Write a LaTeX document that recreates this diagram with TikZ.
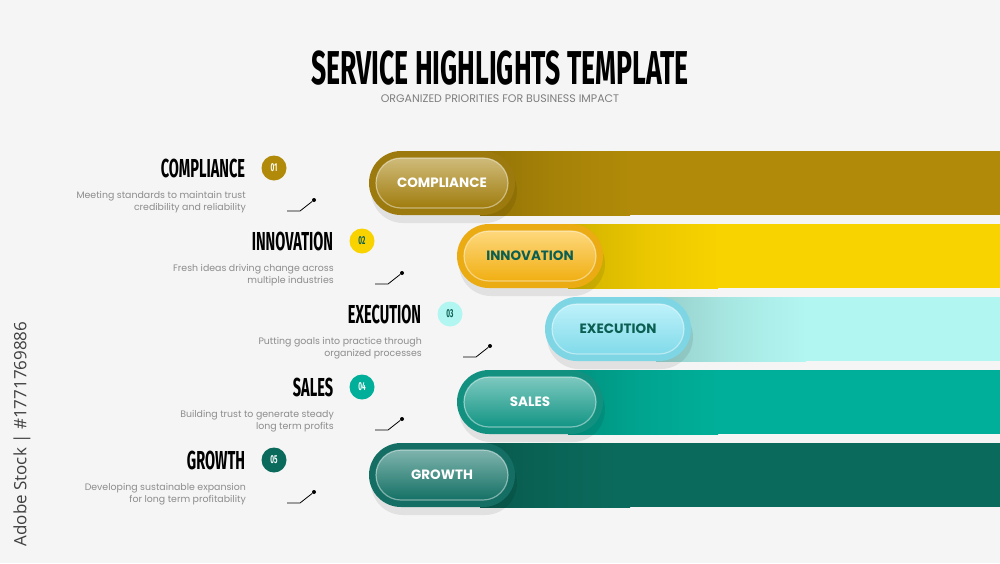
\documentclass[tikz,border=0pt]{standalone}
\usepackage{fontspec}
\setmainfont{Poppins}
\newfontfamily\headfont[FakeStretch=0.56]{Fira Sans}
\newfontfamily\markfont{Open Sans}
\usetikzlibrary{positioning}

\definecolor{bgcol}{HTML}{F5F5F5}
\definecolor{desccol}{HTML}{8C8C8C}
\definecolor{darkteal}{HTML}{0B5E52}
\definecolor{goldbar}{HTML}{B08A08}
\definecolor{goldpill}{HTML}{A8830E}
\definecolor{yellowbar}{HTML}{F8D300}
\definecolor{yellowpill}{HTML}{FDB813}
\definecolor{cyanbar}{HTML}{B2F6F1}
\definecolor{cyanpill}{HTML}{88E6F6}
\definecolor{tealbar}{HTML}{00AF99}
\definecolor{tealpill}{HTML}{139C8B}
\definecolor{greenbar}{HTML}{0A6B5C}
\definecolor{greenpill}{HTML}{15766A}

\begin{document}
\begin{tikzpicture}[x=1pt,y=-1pt,
  barbox/.style={anchor=west,minimum height=64,inner sep=0},
  pillbox/.style={minimum width=146,minimum height=64,rounded corners=32,inner sep=0},
  pillinner/.style={minimum width=132,minimum height=50,rounded corners=25,inner sep=0,
    draw=white,draw opacity=0.45,line width=1.2},
  pilltext/.style={font=\fontsize{13.5}{13.5}\bfseries},
  headtext/.style={font=\headfont\bfseries\fontsize{26}{26}\selectfont,inner sep=0},
  numdot/.style={circle,minimum size=25,inner sep=0,font=\headfont\bfseries\fontsize{11.5}{11.5}\selectfont},
  desctext/.style={font=\fontsize{9.4}{12}\selectfont,text=desccol,align=right,inner sep=0},
  tickline/.style={line width=0.8},
  tickdot/.style={circle,fill=black,minimum size=4,inner sep=0}]

  \fill[bgcol] (0,0) rectangle (1000,563);
  \useasboundingbox (0,0) rectangle (1000,563);

  \node[headtext,font=\headfont\bfseries\fontsize{47.5}{47.5}\selectfont] (title) at (500,68) {SERVICE HIGHLIGHTS TEMPLATE};
  \node[font=\fontsize{11}{11}\selectfont,text=desccol!90!black] (subtitle) at (500,99) {ORGANIZED PRIORITIES FOR BUSINESS IMPACT};
  \node[rotate=90,font=\markfont\fontsize{17}{17}\selectfont,text=black!75] (mark) at (22,434) {Adobe Stock | \#1771769886};

  \foreach \i/\o/\yc/\nm/\barc/\pillc/\ptxt/\ntxt/\desc in {
    1/0/183/COMPLIANCE/goldbar/goldpill/white/white/{Meeting standards to maintain trust\\credibility and reliability},
    2/88/256/INNOVATION/yellowbar/yellowpill/darkteal/darkteal/{Fresh ideas driving change across\\multiple industries},
    3/176/329/EXECUTION/cyanbar/cyanpill/darkteal/darkteal/{Putting goals into practice through\\organized processes},
    4/88/402/SALES/tealbar/tealpill/white/white/{Building trust to generate steady\\long term profits},
    5/0/475/GROWTH/greenbar/greenpill/white/white/{Developing sustainable expansion\\for long term profitability}}{
    % bar and pill
    \node[barbox,fill=\barc,minimum width={560-\o}] (bar\i) at (\o+440,\yc) {};
    \fill[left color=\barc!84!black,right color=\barc,middle color=\barc!94!black] (\o+480,\yc-32) rectangle (\o+630,\yc+32);
    \node[pillbox,fill=black,opacity=0.08] (shad\i) at (\o+444,\yc+8) {};
    \node[pillbox,fill=\pillc!93!black] (pill\i) at (\o+442,\yc) {};
    \node[pillinner,top color=\pillc!55!white,bottom color=\pillc!95!black] (inner\i) at (pill\i) {};
    \node[pilltext,text=\ptxt] (lab\i) at (pill\i) {\nm};
    % left side text
    \node[numdot,fill=\barc,text=\ntxt] (num\i) at (\o+274,\yc-15) {0\i};
    \node[headtext,left=16 of num\i] (head\i) {\nm};
    \node[desctext,anchor=east] (desc\i) at (\o+246,\yc+19.5) {\desc};
    \coordinate (tick\i) at (\o+287,\yc+28);
    \node[tickdot] (dot\i) at (\o+314,\yc+17) {};
    \draw[tickline] (tick\i) -- ++(13,0) -- (dot\i);
  }
\end{tikzpicture}
\end{document}
